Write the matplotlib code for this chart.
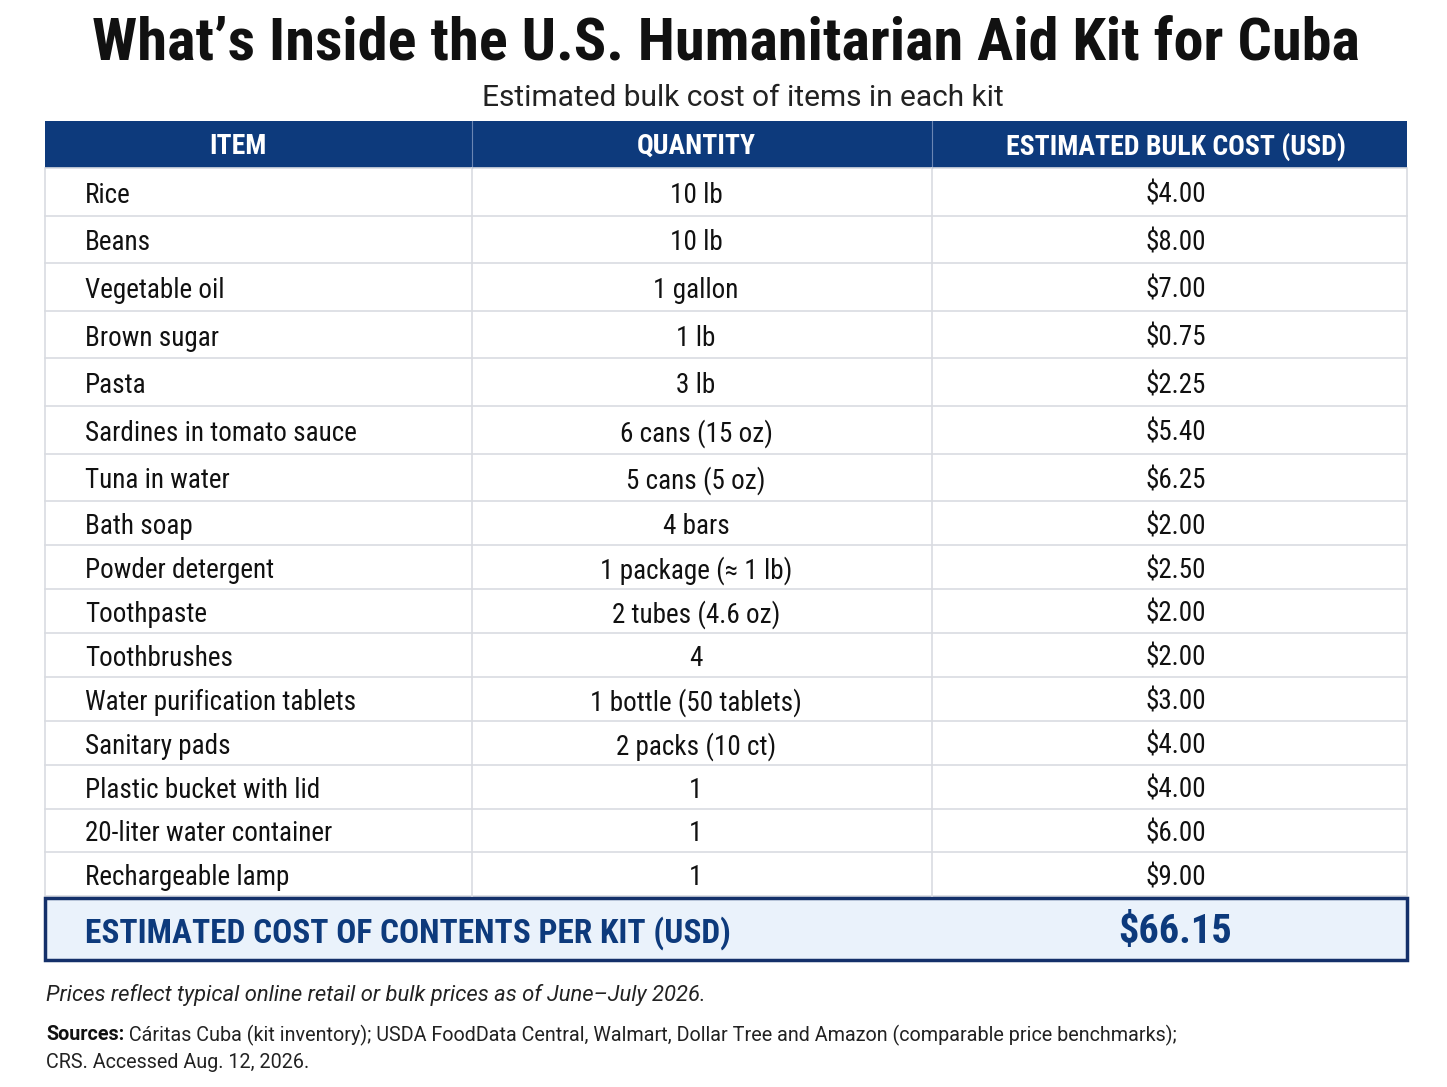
import matplotlib
matplotlib.use('Agg')
import matplotlib.pyplot as plt
from matplotlib.patches import Rectangle

# table contents
items = ['Rice', 'Beans', 'Vegetable oil', 'Brown sugar', 'Pasta',
         'Sardines in tomato sauce', 'Tuna in water', 'Bath soap',
         'Powder detergent', 'Toothpaste', 'Toothbrushes',
         'Water purification tablets', 'Sanitary pads',
         'Plastic bucket with lid', '20-liter water container', 'Rechargeable lamp']
quantities = ['10 lb', '10 lb', '1 gallon', '1 lb', '3 lb', '6 cans (15 oz)',
              '5 cans (5 oz)', '4 bars', '1 package (\u2248 1 lb)', '2 tubes (4.6 oz)',
              '4', '1 bottle (50 tablets)', '2 packs (10 ct)', '1', '1', '1']
costs = [4.00, 8.00, 7.00, 0.75, 2.25, 5.40, 6.25, 2.00, 2.50, 2.00,
         2.00, 3.00, 4.00, 4.00, 6.00, 9.00]
headers = ['ITEM', 'QUANTITY', 'ESTIMATED BULK COST (USD)']
total_cost = 66.15  # as printed on the chart

title = 'What\u2019s Inside the U.S. Humanitarian Aid Kit for Cuba'
subtitle = 'Estimated bulk cost of items in each kit'
note = 'Prices reflect typical online retail or bulk prices as of June\u2013July 2026.'
sources = ('C\u00e1ritas Cuba (kit inventory); USDA FoodData Central, Walmart, Dollar Tree '
           'and Amazon (comparable price benchmarks);')
sources2 = 'CRS. Accessed Aug. 12, 2026.'

cond = ['Roboto Condensed', 'Open Sans Condensed', 'IBM Plex Sans Condensed', 'DejaVu Sans']
plain = ['Roboto', 'DejaVu Sans']

navy = '#0d3a7c'
grid = '#d9dce1'

W, H = 1447, 1087
fig = plt.figure(figsize=(W / 100, H / 100), dpi=100)
ax = fig.add_axes([0, 0, 1, 1])
ax.set_xlim(0, W)
ax.set_ylim(H, 0)
ax.axis('off')

left, right = 45, 1407
col_x = [left, 472, 932, right]
head_top, head_bot = 121, 168
# upper rows are a bit taller than the lower ones in the original
row_h = [47.6] * 7 + [43.9] * 9

ax.text(726, 44, title, ha='center', va='center', fontsize=43.5,
        fontweight=900, family=cond, color='#111111')
ax.text(743, 98, subtitle, ha='center', va='center', fontsize=21.5,
        family=plain, color='#222222')

# header band
ax.add_patch(Rectangle((left, head_top), right - left, head_bot - head_top,
                       facecolor=navy, edgecolor='none'))
head_cx = [238, 696, 1176]
for h, cx in zip(headers, head_cx):
    ax.text(cx, (head_top + head_bot) / 2 + 2, h, ha='center', va='center',
            fontsize=20, fontweight='bold', color='white', family=cond)
for x in col_x[1:3]:
    ax.plot([x, x], [head_top, head_bot], color='#6a85b3', lw=0.8)

# body rows
body_bot = head_bot + sum(row_h)
ax.add_patch(Rectangle((left, head_bot), right - left, body_bot - head_bot,
                       facecolor='white', edgecolor=grid, lw=1.2))
for x in col_x[1:3]:
    ax.plot([x, x], [head_bot, body_bot], color=grid, lw=1.2)
y0 = head_bot
for r in range(len(items)):
    yc = y0 + row_h[r] / 2 + 3.5
    if r > 0:
        ax.plot([left, right], [y0, y0], color=grid, lw=1.2)
    ax.text(85, yc, items[r], ha='left', va='center', fontsize=19.5,
            family=cond, color='#111111')
    ax.text(696, yc, quantities[r], ha='center', va='center', fontsize=19.5,
            family=cond, color='#111111')
    ax.text(1176, yc, f'${costs[r]:.2f}', ha='center', va='center', fontsize=19.5,
            family=cond, color='#111111')
    y0 += row_h[r]

# total row
ax.add_patch(Rectangle((left, 898), right - left, 62, facecolor='#eaf2fb',
                       edgecolor='#14306a', lw=2.5))
ax.text(85, 933, 'ESTIMATED COST OF CONTENTS PER KIT (USD)', ha='left', va='center',
        fontsize=24, fontweight='bold', color=navy, family=cond)
ax.text(1175, 932, f'${total_cost:.2f}', ha='center', va='center', fontsize=29,
        fontweight='bold', color=navy, family=cond)

# footer
ax.text(46, 995, note, ha='left', va='center', fontsize=15.8, style='italic',
        family=plain, color='#222222')
t = ax.text(46, 1035, 'Sources:', ha='left', va='center', fontsize=14.2,
            fontweight='bold', family=plain, color='#111111')
ax.annotate(' ' + sources, xycoords=t, xy=(1, 0.5), ha='left', va='center',
            fontsize=14.2, family=plain, color='#222222')
ax.text(46, 1062, sources2, ha='left', va='center', fontsize=14.2,
        family=plain, color='#222222')

fig.savefig('out.png', dpi=100, facecolor='white')
